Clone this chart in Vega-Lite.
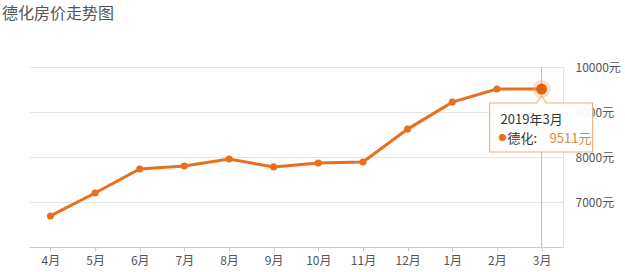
{
  "$schema": "https://vega.github.io/schema/vega-lite/v6.json",
  "autosize": {"type": "none"},
  "width": 534,
  "height": 180,
  "padding": {"left": 29, "top": 67, "right": 62, "bottom": 25},
  "background": "white",
  "title": {
    "text": "德化房价走势图",
    "anchor": "start",
    "frame": "group",
    "offset": 39,
    "dx": -27,
    "font": "Noto Sans CJK SC",
    "fontSize": 16,
    "fontWeight": "normal",
    "color": "#555555"
  },
  "config": {
    "view": {"stroke": null},
    "font": "Noto Sans CJK SC"
  },
  "datasets": {
    "prices": [
      {"month": "4月", "price": 6690},
      {"month": "5月", "price": 7200},
      {"month": "6月", "price": 7735},
      {"month": "7月", "price": 7800},
      {"month": "8月", "price": 7955},
      {"month": "9月", "price": 7780},
      {"month": "10月", "price": 7865},
      {"month": "11月", "price": 7890},
      {"month": "12月", "price": 8620},
      {"month": "1月", "price": 9220},
      {"month": "2月", "price": 9511},
      {"month": "3月", "price": 9511}
    ],
    "tip": [
      {"month": "3月", "price": 9511, "title": "2019年3月", "dot": "●", "label": "德化:", "value": "9511元"}
    ]
  },
  "encoding": {
    "x": {
      "field": "month",
      "type": "ordinal",
      "sort": null,
      "scale": {
        "type": "point",
        "padding": 0.48,
        "domain": ["4月", "5月", "6月", "7月", "8月", "9月", "10月", "11月", "12月", "1月", "2月", "3月"]
      },
      "axis": {
        "title": null,
        "labelAngle": 0,
        "labelFontSize": 12,
        "labelColor": "#555555",
        "labelPadding": 4,
        "tickSize": 4,
        "tickColor": "#cccccc",
        "domainColor": "#cccccc",
        "grid": false
      }
    },
    "y": {
      "field": "price",
      "type": "quantitative",
      "scale": {"domain": [6000, 10000], "nice": false, "zero": false},
      "axis": {
        "orient": "right",
        "title": null,
        "values": [7000, 8000, 9000, 10000],
        "labelExpr": "datum.value + '元'",
        "labelFontSize": 12,
        "labelColor": "#555555",
        "labelPadding": 12,
        "ticks": false,
        "domain": true,
        "domainColor": "#e4e4e4",
        "gridColor": "#e4e4e4",
        "grid": true
      }
    }
  },
  "layer": [
    {
      "data": {"name": "tip"},
      "mark": {"type": "rule", "color": "#bbbbbb", "strokeWidth": 1},
      "encoding": {"y": null}
    },
    {
      "data": {"name": "prices"},
      "mark": {"type": "line", "color": "#e8701c", "strokeWidth": 3}
    },
    {
      "data": {"name": "prices"},
      "mark": {"type": "point", "filled": true, "color": "#e8701c", "size": 50, "opacity": 1}
    },
    {
      "data": {"name": "tip"},
      "mark": {"type": "point", "filled": true, "color": "#f4a46a", "size": 330, "opacity": 0.35}
    },
    {
      "data": {"name": "tip"},
      "mark": {"type": "point", "filled": true, "color": "#e8600c", "size": 120, "opacity": 1}
    },
    {
      "data": {"name": "tip"},
      "mark": {
        "type": "point",
        "shape": "M-1.04,0.28 L-0.1,0.28 L0,0.14 L0.1,0.28 L1.02,0.28 L1.02,1.26 L-1.04,1.26 Z",
        "size": 10000,
        "filled": true,
        "fill": "#ffffff",
        "fillOpacity": 0.92,
        "stroke": "#e9b47e",
        "strokeWidth": 1.2,
        "opacity": 1
      }
    },
    {
      "data": {"name": "tip"},
      "mark": {"type": "text", "align": "left", "baseline": "middle", "dx": -41, "dy": 31, "fontSize": 13, "color": "#333333"},
      "encoding": {"text": {"field": "title"}}
    },
    {
      "data": {"name": "tip"},
      "mark": {"type": "text", "align": "left", "baseline": "middle", "dx": -43, "dy": 50, "fontSize": 8, "color": "#e8701c"},
      "encoding": {"text": {"field": "dot"}}
    },
    {
      "data": {"name": "tip"},
      "mark": {"type": "text", "align": "left", "baseline": "middle", "dx": -34, "dy": 50, "fontSize": 13, "color": "#333333"},
      "encoding": {"text": {"field": "label"}}
    },
    {
      "data": {"name": "tip"},
      "mark": {"type": "text", "align": "left", "baseline": "middle", "dx": 8, "dy": 50, "fontSize": 13, "color": "#d9893a"},
      "encoding": {"text": {"field": "value"}}
    }
  ]
}
